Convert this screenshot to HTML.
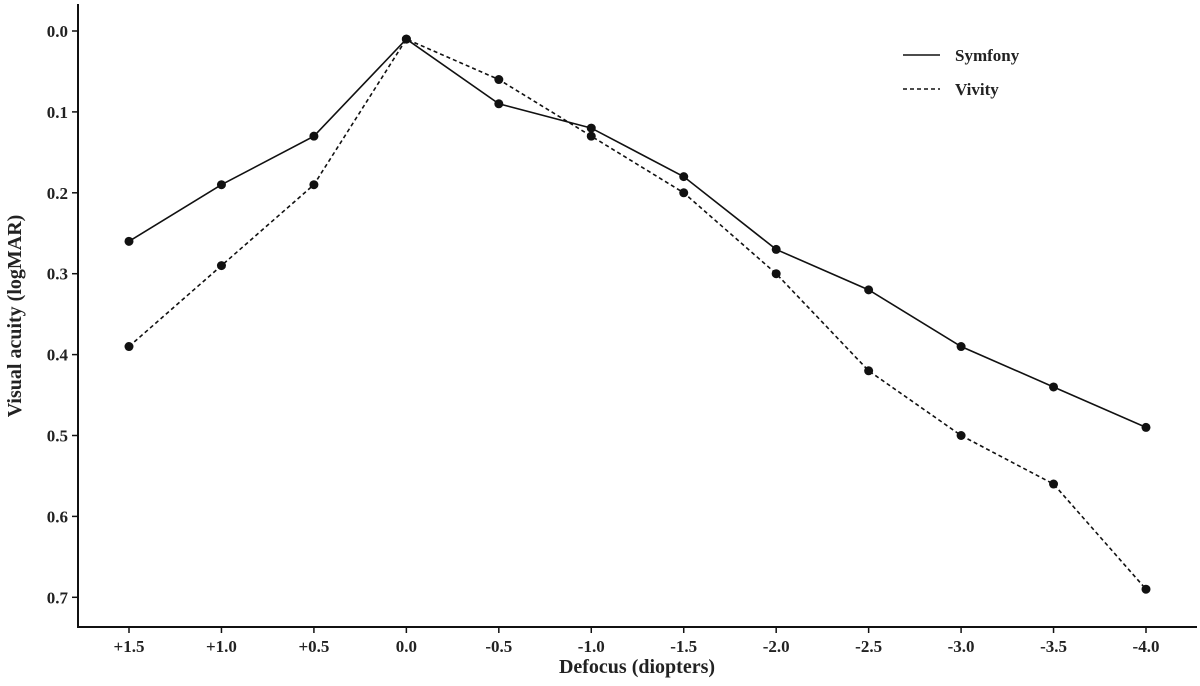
<!DOCTYPE html>
<html><head><meta charset="utf-8"><style>
body{margin:0;background:#fff;}
svg text{font-family:"Liberation Serif",serif;font-weight:bold;fill:#222;}
</style></head><body>
<svg id="chart" width="1200" height="681" viewBox="0 0 1200 681" xmlns="http://www.w3.org/2000/svg"></svg>
<script>
const categories=["+1.5","+1.0","+0.5","0.0","-0.5","-1.0","-1.5","-2.0","-2.5","-3.0","-3.5","-4.0"];
const symfony=[0.26,0.19,0.13,0.01,0.09,0.12,0.18,0.27,0.32,0.39,0.44,0.49];
const vivity=[0.39,0.29,0.19,0.01,0.06,0.13,0.20,0.30,0.42,0.50,0.56,0.69];
const yTicks=[0.0,0.1,0.2,0.3,0.4,0.5,0.6,0.7];
const yTickLabels=["0.0","0.1","0.2","0.3","0.4","0.5","0.6","0.7"];
const NS="http://www.w3.org/2000/svg";
const svg=document.getElementById('chart');
const xs=i=>129+i*(1146-129)/11;
const ys=v=>31+v*809;
function mk(t,a,p){const e=document.createElementNS(NS,t);for(const k in a)e.setAttribute(k,a[k]);(p||svg).appendChild(e);return e;}
// axes
let ax=mk('line',{x1:78,y1:4,x2:78,y2:627,stroke:'#111','stroke-width':2});


ax=mk('line',{x1:77,y1:627,x2:1197,y2:627,stroke:'#111','stroke-width':2});


yTicks.forEach((v,i)=>{
  const y=ys(v);
  const t=mk('line',{x1:72,y1:y,x2:78,y2:y,stroke:'#111','stroke-width':1.5});
  
  
  const l=mk('text',{x:68,y:y+6,'text-anchor':'end','font-size':17});
  l.textContent=yTickLabels[i];
  
  
});
categories.forEach((c,i)=>{
  const x=xs(i);
  const t=mk('line',{x1:x,y1:627,x2:x,y2:633,stroke:'#111','stroke-width':1.5});
  
  
  const l=mk('text',{x:x,y:652,'text-anchor':'middle','font-size':17});
  l.textContent=c;
  
  
});
let tt=mk('text',{x:637,y:673,'text-anchor':'middle','font-size':20});
tt.textContent='Defocus (diopters)';


tt=mk('text',{x:0,y:0,'text-anchor':'middle','font-size':20,transform:'translate(21,316) rotate(-90)'});
tt.textContent='Visual acuity (logMAR)';


function series(vals,dash,name){
  const g=mk('g',{});
  
  
  const pl=mk('polyline',{points:vals.map((v,i)=>xs(i)+','+ys(v)).join(' '),fill:'none',stroke:'#111','stroke-width':1.6,'stroke-dasharray':dash},g);
  
  
  vals.forEach((v,i)=>{
    const c=mk('circle',{cx:xs(i),cy:ys(v),r:4.5,fill:'#111'},g);
    
    
  });
}
series(vivity,'4,3','vivity');
series(symfony,'none','symfony');
// legend
const lg=mk('g',{});


[['Symfony','none',55],['Vivity','4,3',89]].forEach(([n,d,y])=>{
  const l=mk('line',{x1:903,y1:y,x2:940,y2:y,stroke:'#111','stroke-width':1.6,'stroke-dasharray':d},lg);
  
  
  const t=mk('text',{x:955,y:y+6,'font-size':17},lg);
  t.textContent=n;
  
  
});
</script>
</body></html>
